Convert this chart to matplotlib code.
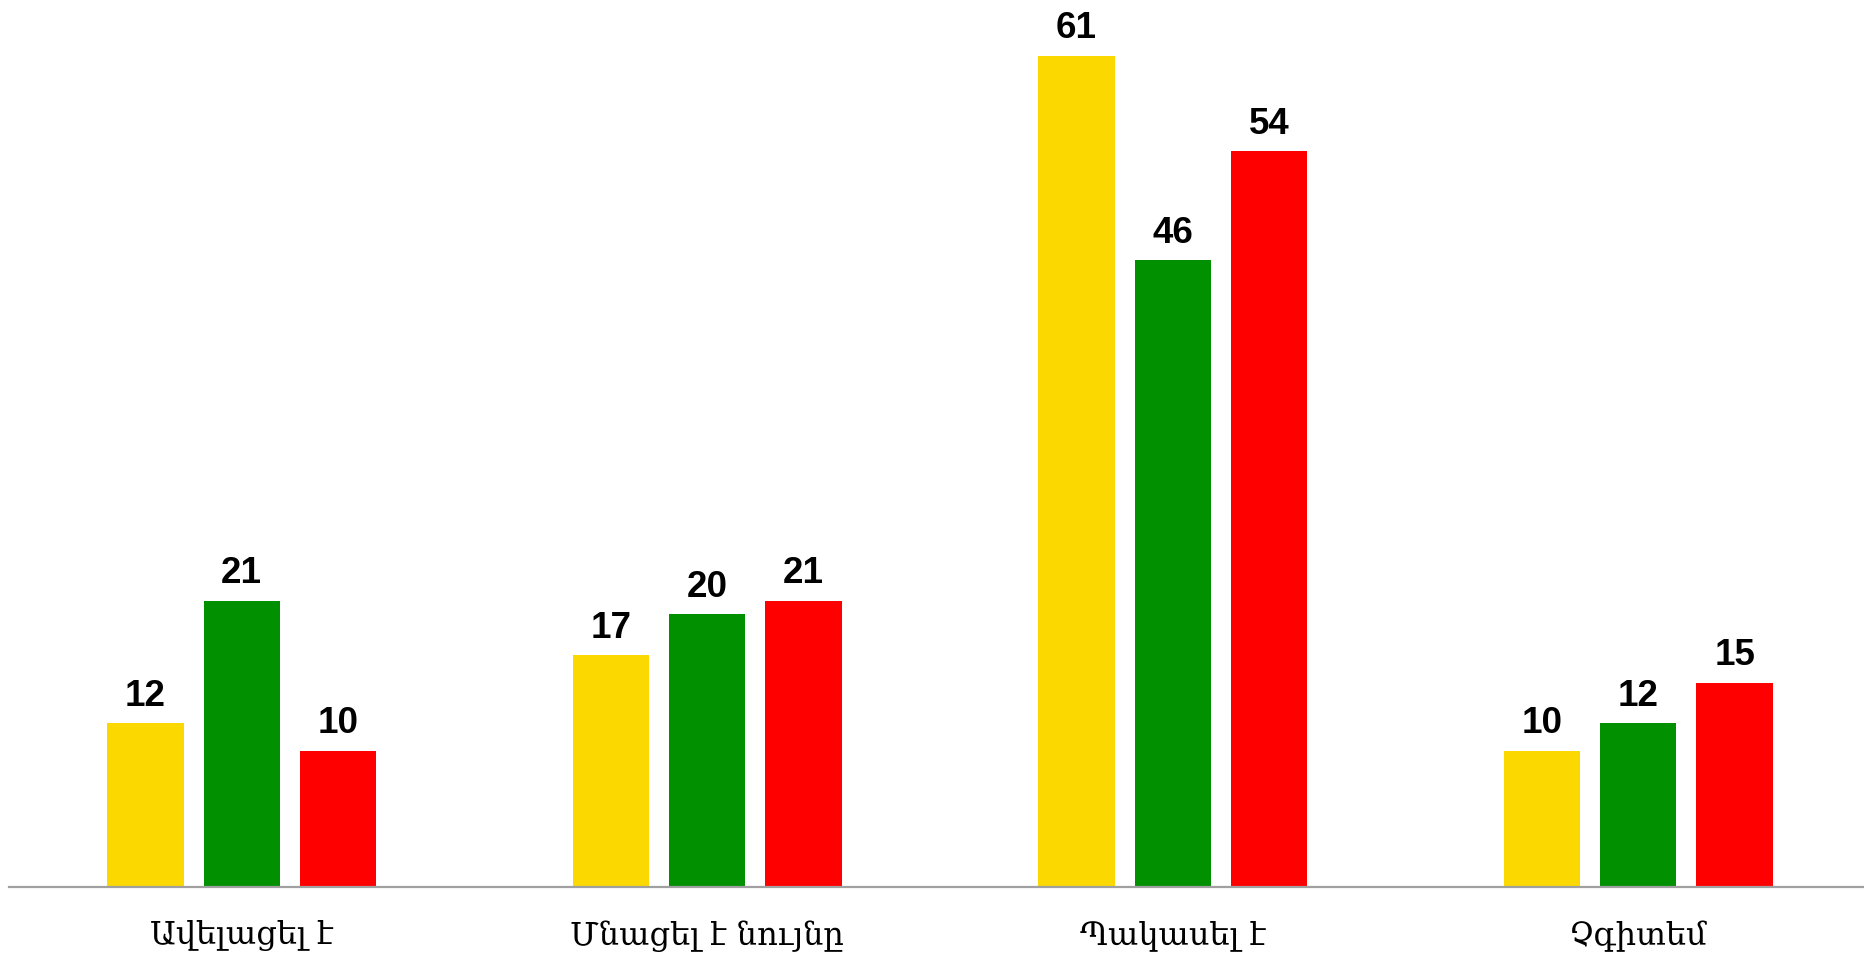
import matplotlib
matplotlib.use("Agg")
import matplotlib.pyplot as plt
import numpy as np

categories = ["Ավելացել է", "Մնացել է նույնը", "Պակասել է", "Չգիտեմ"]
series_a = [12, 17, 61, 10]
series_b = [21, 20, 46, 12]
series_c = [10, 21, 54, 15]

colors = ["#FBD900", "#009000", "#FF0000"]

W, H, DPI = 1864, 961, 100
fig = plt.figure(figsize=(W / DPI, H / DPI), dpi=DPI)
# axes runs a little past the right edge, like the original
ax = fig.add_axes([9 / W, (H - 887) / H, 1862 / W, 887 / H])

x = np.arange(len(categories))
width = 0.164
offset = 0.207
for i, (vals, col) in enumerate(zip([series_a, series_b, series_c], colors)):
    bars = ax.bar(x + (i - 1) * offset, vals, width, color=col, zorder=2)
    for b, v in zip(bars, vals):
        ax.annotate(str(v), (b.get_x() + b.get_width() / 2, v),
                    xytext=(0, 7), textcoords="offset points",
                    ha="center", va="bottom", fontsize=26.5, fontweight="bold",
                    family="Liberation Sans")

ax.set_xlim(-0.5, 3.5)
ax.set_ylim(0, 65.1)
for s in ["top", "right", "left"]:
    ax.spines[s].set_visible(False)
ax.spines["bottom"].set_color("#a0a0a0")
ax.spines["bottom"].set_linewidth(1.6)
ax.set_yticks([])
ax.set_xticks(x)
ax.set_xticklabels(categories, fontsize=23, family="DejaVu Serif")
ax.tick_params(axis="x", length=0, pad=24)

fig.savefig("out.png", dpi=DPI)
